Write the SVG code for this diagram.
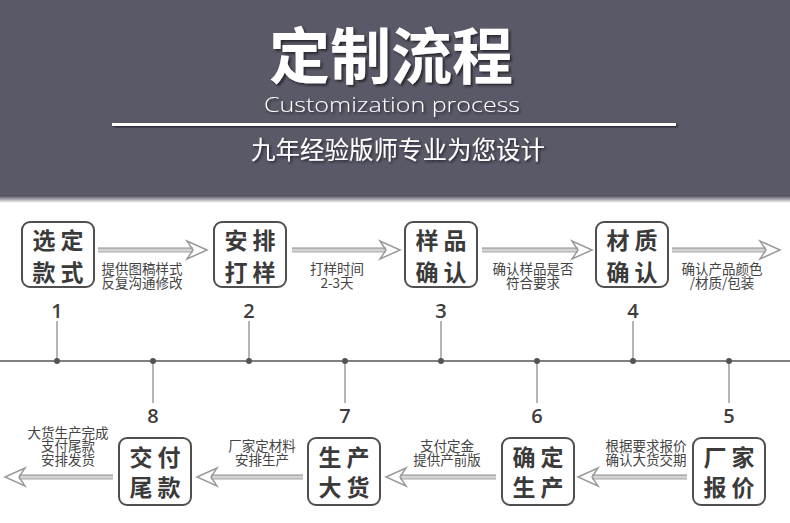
<svg xmlns="http://www.w3.org/2000/svg" width="790" height="523" viewBox="0 0 790 523">
<defs>
<linearGradient id="hdrShadow" x1="0" y1="0" x2="0" y2="1">
<stop offset="0" stop-color="#45444f"/>
<stop offset="0.4" stop-color="#8c8b94"/>
<stop offset="1" stop-color="#ffffff"/>
</linearGradient>
<linearGradient id="shaft" x1="0" y1="0" x2="0" y2="1">
<stop offset="0" stop-color="#8e8e8e"/>
<stop offset="0.5" stop-color="#e2e2e2"/>
<stop offset="1" stop-color="#a4a4a4"/>
</linearGradient>
<filter id="ts" x="-10%" y="-10%" width="130%" height="140%">
<feDropShadow dx="2" dy="2" stdDeviation="1" flood-color="#1e1d26" flood-opacity="0.85"/>
</filter>
<filter id="ts2" x="-10%" y="-30%" width="130%" height="180%">
<feDropShadow dx="1.5" dy="1.5" stdDeviation="0.8" flood-color="#1e1d26" flood-opacity="0.8"/>
</filter>
</defs>
<style>
.cjk{font-family:"Noto Sans CJK SC","Noto Sans",sans-serif}
.box{fill:#ffffff;stroke:#4f4f4f;stroke-width:2}
.bt{font-family:"Noto Sans CJK SC",sans-serif;font-size:23px;font-weight:bold;fill:#3a3a3a}
.cap{font-family:"Noto Sans CJK SC",sans-serif;font-size:13.5px;fill:#444444;text-anchor:middle}
.num{font-family:"Open Sans","Liberation Sans",sans-serif;font-size:20px;font-weight:600;fill:#3d3d3d;text-anchor:middle}
.head{fill:none;stroke:#9a9a9a;stroke-width:1.5;stroke-linejoin:miter}
.tick{stroke:#6a6a6a;stroke-width:1}
</style>
<rect x="0" y="0" width="790" height="196" fill="#5a5967"/>
<rect x="0" y="195" width="790" height="8" fill="url(#hdrShadow)"/>
<text x="391" y="79" text-anchor="middle" class="cjk" font-size="61" font-weight="bold" fill="#ffffff" filter="url(#ts)">定制流程</text>
<text x="264" y="112" font-family="Open Sans,Liberation Sans,sans-serif" font-weight="300" font-size="20" fill="#ffffff" textLength="256" lengthAdjust="spacingAndGlyphs" filter="url(#ts2)">Customization process</text>
<rect x="112" y="123" width="564" height="3" fill="#ffffff" filter="url(#ts2)"/>
<text x="398" y="159" text-anchor="middle" class="cjk" font-size="24.5" fill="#ffffff" filter="url(#ts2)">九年经验版师专业为您设计</text>
<g id="connectors">
<line x1="0" y1="361" x2="790" y2="361" stroke="#555555" stroke-width="1.5"/>
<line class="tick" x1="57" y1="321" x2="57" y2="361"/>
<line class="tick" x1="249" y1="321" x2="249" y2="361"/>
<line class="tick" x1="441" y1="321" x2="441" y2="361"/>
<line class="tick" x1="633" y1="321" x2="633" y2="361"/>
<line class="tick" x1="153" y1="361" x2="153" y2="403"/>
<line class="tick" x1="345" y1="361" x2="345" y2="403"/>
<line class="tick" x1="537" y1="361" x2="537" y2="403"/>
<line class="tick" x1="729" y1="361" x2="729" y2="403"/>
<g fill="#555555">
<circle cx="57" cy="361" r="3"/><circle cx="153" cy="361" r="3"/><circle cx="249" cy="361" r="3"/><circle cx="345" cy="361" r="3"/>
<circle cx="441" cy="361" r="3"/><circle cx="537" cy="361" r="3"/><circle cx="633" cy="361" r="3"/><circle cx="729" cy="361" r="3"/>
</g>
<rect x="98" y="247.5" width="95" height="5" fill="url(#shaft)"/>
<path class="head" d="M207,250 L187,241 L193,250 L187,259 Z"/>
<rect x="292" y="247.5" width="94" height="5" fill="url(#shaft)"/>
<path class="head" d="M400,250 L380,241 L386,250 L380,259 Z"/>
<rect x="482" y="247.5" width="96" height="5" fill="url(#shaft)"/>
<path class="head" d="M592,250 L572,241 L578,250 L572,259 Z"/>
<rect x="672" y="247.5" width="94" height="5" fill="url(#shaft)"/>
<path class="head" d="M780,250 L760,241 L766,250 L760,259 Z"/>
<rect x="592" y="474.5" width="95" height="5" fill="url(#shaft)"/>
<path class="head" d="M578,477 L598,468 L592,477 L598,486 Z"/>
<rect x="400" y="474.5" width="96" height="5" fill="url(#shaft)"/>
<path class="head" d="M386,477 L406,468 L400,477 L406,486 Z"/>
<rect x="211" y="474.5" width="92" height="5" fill="url(#shaft)"/>
<path class="head" d="M197,477 L217,468 L211,477 L217,486 Z"/>
<rect x="19" y="474.5" width="94" height="5" fill="url(#shaft)"/>
<path class="head" d="M5,477 L25,468 L19,477 L25,486 Z"/>
</g>
<g id="n1"><rect class="box" x="22" y="222" width="72" height="65" rx="8"/><text class="bt"><tspan x="32.5 60.5" y="249">选定</tspan><tspan x="32.5 60.5" y="281">款式</tspan></text></g>
<g id="n2"><rect class="box" x="214" y="222" width="72" height="65" rx="8"/><text class="bt"><tspan x="224.5 252.5" y="249">安排</tspan><tspan x="224.5 252.5" y="281">打样</tspan></text></g>
<g id="n3"><rect class="box" x="405" y="222" width="72" height="65" rx="8"/><text class="bt"><tspan x="415.5 443.5" y="249">样品</tspan><tspan x="415.5 443.5" y="281">确认</tspan></text></g>
<g id="n4"><rect class="box" x="596" y="222" width="72" height="65" rx="8"/><text class="bt"><tspan x="606.5 634.5" y="249">材质</tspan><tspan x="606.5 634.5" y="281">确认</tspan></text></g>
<g id="n5"><rect class="box" x="693" y="438" width="72" height="67" rx="8"/><text class="bt"><tspan x="703.5 731.5" y="466">厂家</tspan><tspan x="703.5 731.5" y="496">报价</tspan></text></g>
<g id="n6"><rect class="box" x="502" y="438" width="72" height="67" rx="8"/><text class="bt"><tspan x="512.5 540.5" y="466">确定</tspan><tspan x="512.5 540.5" y="496">生产</tspan></text></g>
<g id="n7"><rect class="box" x="308" y="438" width="72" height="67" rx="8"/><text class="bt"><tspan x="318.5 346.5" y="466">生产</tspan><tspan x="318.5 346.5" y="496">大货</tspan></text></g>
<g id="n8"><rect class="box" x="119" y="438" width="72" height="67" rx="8"/><text class="bt"><tspan x="129.5 157.5" y="466">交付</tspan><tspan x="129.5 157.5" y="496">尾款</tspan></text></g>
<g id="labels">
<text class="num" x="57" y="318">1</text>
<text class="num" x="249" y="318">2</text>
<text class="num" x="441" y="318">3</text>
<text class="num" x="633" y="318">4</text>
<text class="num" x="729" y="423">5</text>
<text class="num" x="537" y="423">6</text>
<text class="num" x="345" y="423">7</text>
<text class="num" x="153" y="423">8</text>
<text class="cap"><tspan x="142" y="274">提供图稿样式</tspan><tspan x="142" y="288">反复沟通修改</tspan></text>
<text class="cap"><tspan x="337" y="274">打样时间</tspan><tspan x="337" y="288">2-3天</tspan></text>
<text class="cap"><tspan x="533" y="274">确认样品是否</tspan><tspan x="533" y="288">符合要求</tspan></text>
<text class="cap"><tspan x="722" y="274">确认产品颜色</tspan><tspan x="722" y="288">/材质/包装</tspan></text>
<text class="cap"><tspan x="646" y="451">根据要求报价</tspan><tspan x="646" y="465">确认大货交期</tspan></text>
<text class="cap"><tspan x="447" y="451">支付定金</tspan><tspan x="447" y="465">提供产前版</tspan></text>
<text class="cap"><tspan x="262" y="451">厂家定材料</tspan><tspan x="262" y="465">安排生产</tspan></text>
<text class="cap"><tspan x="68" y="437.5">大货生产完成</tspan><tspan x="68" y="451">支付尾款</tspan><tspan x="68" y="464.5">安排发货</tspan></text>
</g>
</svg>
